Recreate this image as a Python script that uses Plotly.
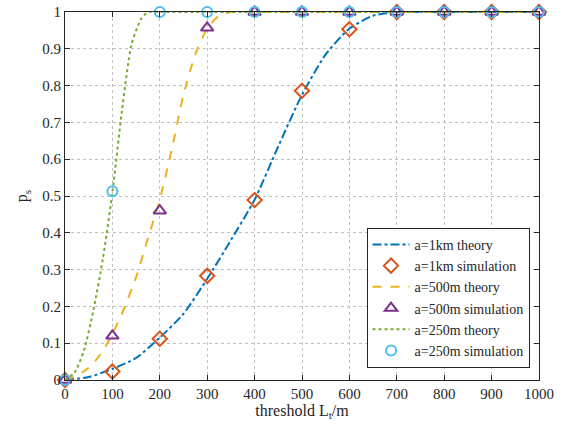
import plotly.graph_objects as go

# Theory curves
x_th_1km = [0, 50, 100, 150, 200, 250, 300, 350, 400, 450, 500, 550, 600, 650, 700, 750, 1000]
y_th_1km = [0, 0.008, 0.03, 0.06, 0.115, 0.18, 0.275, 0.38, 0.49, 0.635, 0.775, 0.885, 0.955, 0.99, 1.0, 1.0, 1.0]

x_th_500 = [0, 25, 50, 75, 100, 125, 150, 175, 200, 225, 250, 275, 300, 325, 350, 400, 1000]
y_th_500 = [0, 0.012, 0.033, 0.07, 0.125, 0.195, 0.28, 0.385, 0.49, 0.625, 0.775, 0.885, 0.955, 0.99, 1.0, 1.0, 1.0]

x_th_250 = [0, 20, 40, 60, 80, 100, 120, 140, 160, 175, 200, 1000]
y_th_250 = [0, 0.02, 0.08, 0.19, 0.33, 0.51, 0.73, 0.91, 0.98, 1.0, 1.0, 1.0]

# Simulation points
x_sim = [0, 100, 200, 300, 400, 500, 600, 700, 800, 900, 1000]
y_sim_1km = [0, 0.023, 0.112, 0.283, 0.489, 0.786, 0.953, 1, 1, 1, 1]
y_sim_500 = [0, 0.12, 0.46, 0.957, 1, 1, 1, 1, 1, 1, 1]
y_sim_250 = [0, 0.513, 1, 1, 1, 1, 1, 1, 1, 1, 1]

x_ticks = [0, 100, 200, 300, 400, 500, 600, 700, 800, 900, 1000]
y_ticks = [0, 0.1, 0.2, 0.3, 0.4, 0.5, 0.6, 0.7, 0.8, 0.9, 1]

BLUE = "#0072BD"
ORANGE = "#D95319"
YELLOW = "#EDB120"
PURPLE = "#7E2F8E"
GREEN = "#77AC30"
CYAN = "#4DBEEE"

fig = go.Figure()
fig.add_trace(go.Scatter(x=x_th_1km, y=y_th_1km, mode="lines", name="a=1km theory",
                         line=dict(color=BLUE, width=2, dash="dashdot", shape="spline", smoothing=0.6),
                         cliponaxis=False))
fig.add_trace(go.Scatter(x=x_sim, y=y_sim_1km, mode="markers", name="a=1km simulation",
                         marker=dict(symbol="diamond-open", size=11, color=ORANGE, line=dict(width=2, color=ORANGE)),
                         cliponaxis=False))
fig.add_trace(go.Scatter(x=x_th_500, y=y_th_500, mode="lines", name="a=500m theory",
                         line=dict(color=YELLOW, width=2, dash="dash", shape="spline", smoothing=0.6),
                         cliponaxis=False))
fig.add_trace(go.Scatter(x=x_sim, y=y_sim_500, mode="markers", name="a=500m simulation",
                         marker=dict(symbol="triangle-up-open", size=11, color=PURPLE, line=dict(width=2, color=PURPLE)),
                         cliponaxis=False))
fig.add_trace(go.Scatter(x=x_th_250, y=y_th_250, mode="lines", name="a=250m theory",
                         line=dict(color=GREEN, width=2, dash="dot", shape="spline", smoothing=0.6),
                         cliponaxis=False))
fig.add_trace(go.Scatter(x=x_sim, y=y_sim_250, mode="markers", name="a=250m simulation",
                         marker=dict(symbol="circle-open", size=10, color=CYAN, line=dict(width=2, color=CYAN)),
                         cliponaxis=False))

axis_common = dict(
    showline=True, linecolor="#262626", linewidth=1, mirror="ticks",
    ticks="inside", ticklen=5, tickcolor="#262626", tickwidth=1,
    showgrid=True, gridcolor="#c0c0c0", griddash="dot", gridwidth=1,
    zeroline=False, automargin=False, ticklabeloverflow="allow",
    tickfont=dict(family="Liberation Serif", size=15, color="#262626"),
)

fig.update_layout(
    width=565, height=432,
    margin=dict(l=65, r=26, t=12, b=52),
    paper_bgcolor="white", plot_bgcolor="white",
    font=dict(family="Liberation Serif", size=15, color="#262626"),
    xaxis=dict(range=[0, 1000], tickvals=x_ticks, ticktext=[str(v) for v in x_ticks],
               title=dict(text="threshold L<sub>t</sub>/m", standoff=2,
                          font=dict(family="Liberation Serif", size=16, color="#262626")),
               **axis_common),
    yaxis=dict(range=[0, 1], tickvals=y_ticks, ticktext=[("%g" % v) for v in y_ticks],
               title=dict(text="p<sub>s</sub>", standoff=10,
                          font=dict(family="Liberation Serif", size=16, color="#262626")),
               **axis_common),
    legend=dict(x=0.98, y=0.033, xanchor="right", yanchor="bottom",
                bgcolor="white", bordercolor="#262626", borderwidth=1,
                font=dict(family="Liberation Serif", size=14, color="#262626"),
                tracegroupgap=0, itemwidth=37),
    showlegend=True,
)

fig.write_html("out.html", config={"displayModeBar": False},
               post_script="document.body.style.margin='0';")
